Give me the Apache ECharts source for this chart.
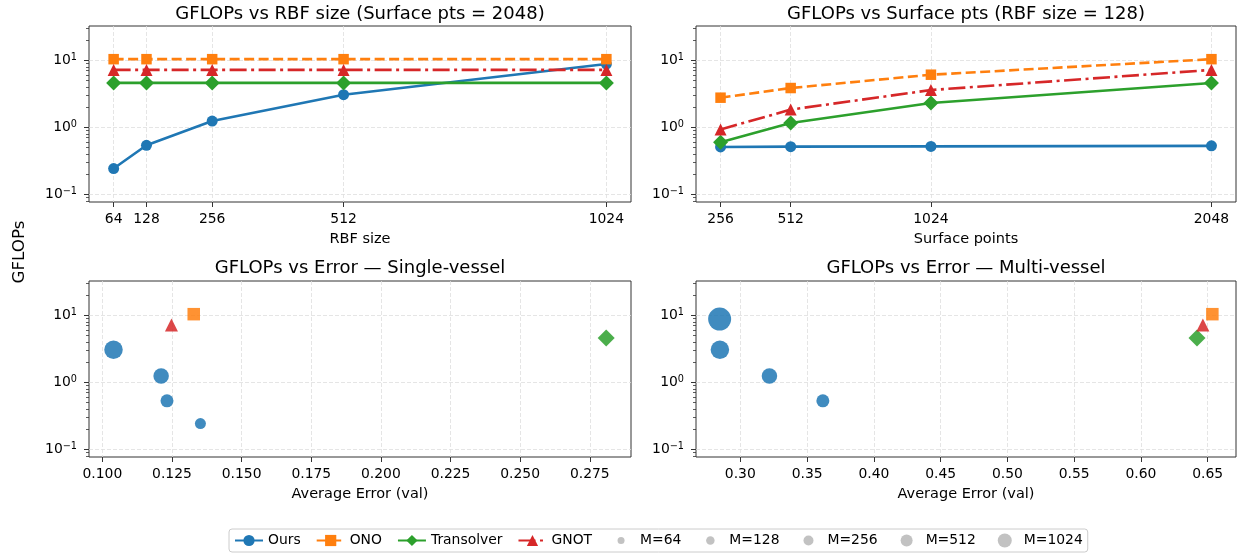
<!DOCTYPE html>
<html>
<head>
<meta charset="utf-8">
<script src="https://cdn.jsdelivr.net/npm/echarts@6/dist/echarts.min.js"></script>
<style>
  html, body { margin: 0; padding: 0; background: #fff; }
  #chart { width: 1244px; height: 557px; }
</style>
</head>
<body>
<div id="chart"></div>
<script>
// ---- data ----
const methods = ['Ours', 'ONO', 'Transolver', 'GNOT'];

// top-left: GFLOPs vs RBF size (surface pts = 2048)
const rbfSizes = [64, 128, 256, 512, 1024];
const oursByRbf = [0.243, 0.54, 1.24, 3.07, 8.8];
const onoByRbf = [10.4, 10.4, 10.4, 10.4, 10.4];
const transolverByRbf = [4.6, 4.6, 4.6, 4.6, 4.6];
const gnotByRbf = [7.2, 7.2, 7.2, 7.2, 7.2];

// top-right: GFLOPs vs surface pts (RBF size = 128)
const surfacePts = [256, 512, 1024, 2048];
const oursByPts = [0.51, 0.515, 0.52, 0.53];
const onoByPts = [2.77, 3.86, 6.1, 10.4];
const transolverByPts = [0.6, 1.16, 2.31, 4.6];
const gnotByPts = [0.93, 1.84, 3.6, 7.2];

// bottom-left: single-vessel error
const oursSingleM = [64, 128, 256, 512];
const oursSingleErr = [0.1352, 0.1232, 0.1211, 0.104];
const oursSingleGflops = [0.243, 0.53, 1.24, 3.07];
const baseSingleErr = [0.1328, 0.2809, 0.1248];   // ONO, Transolver, GNOT
const baseSingleGflops = [10.4, 4.6, 7.2];

// bottom-right: multi-vessel error
const oursMultiM = [128, 256, 512, 1024];
const oursMultiErr = [0.3618, 0.3218, 0.2847, 0.2845];
const oursMultiGflops = [0.53, 1.24, 3.07, 8.8];
const baseMultiErr = [0.6535, 0.642, 0.6464];
const baseMultiGflops = [10.4, 4.6, 7.2];

// ticks
const gflopsTicks = [0.1, 1, 10];
const gflopsMinorTicks = [0.08, 0.09, 0.2, 0.3, 0.4, 0.5, 0.6, 0.7, 0.8, 0.9,
  2, 3, 4, 5, 6, 7, 8, 9, 20, 30];
const singleErrTicks = [0.1, 0.125, 0.15, 0.175, 0.2, 0.225, 0.25, 0.275];
const multiErrTicks = [0.3, 0.35, 0.4, 0.45, 0.5, 0.55, 0.6, 0.65];
const sizeLabels = [64, 128, 256, 512, 1024];

// ---- styles ----
const FONT = 'DejaVu Sans';
const sty = {
  Ours:       { color: '#1f77b4', symbol: 'circle',   size: 11,   dash: 'solid' },
  ONO:        { color: '#ff7f0e', symbol: 'rect',     size: 10.5, dash: [10, 4.5], dot: 12.5 },
  Transolver: { color: '#2ca02c', symbol: 'diamond',  size: 15,   dash: 'solid', dot: 17 },
  GNOT:       { color: '#d62728', symbol: 'triangle', size: 12,   dash: [17, 4.5, 3, 4.5], dot: 13 }
};
const dotSize = { 64: 11, 128: 13, 256: 15.5, 512: 18.5, 1024: 23 };
const legendDot = { 64: 7, 128: 8.5, 256: 10, 512: 12, 1024: 14 };

const grids = [
  { left: 89, top: 26, width: 542, height: 176 },
  { left: 696, top: 26, width: 540, height: 176 },
  { left: 89, top: 281, width: 542, height: 176 },
  { left: 696, top: 281, width: 540, height: 176 }
];
const xRanges = [[16, 1072], [166.4, 2137.6], [0.0952, 0.2898], [0.2668, 0.6712]];
const xTicks = [rbfSizes, surfacePts, singleErrTicks, multiErrTicks];
const xFmt = [v => String(v), v => String(v), v => v.toFixed(3), v => v.toFixed(2)];
const xNames = ['RBF size', 'Surface points', 'Average Error (val)', 'Average Error (val)'];
const titles = ['GFLOPs vs RBF size (Surface pts = 2048)', 'GFLOPs vs Surface pts (RBF size = 128)',
  'GFLOPs vs Error \u2014 Single-vessel', 'GFLOPs vs Error \u2014 Multi-vessel'];

const gridLine = { show: true, lineStyle: { color: '#dedede', width: 0.8, type: [4, 2] } };

const xAxis = grids.map((g, i) => ({
  type: 'value', gridIndex: i, min: xRanges[i][0], max: xRanges[i][1],
  axisLine: { show: false, onZero: false },
  axisTick: { show: true, length: 5, customValues: xTicks[i], lineStyle: { color: '#333', width: 1 } },
  axisLabel: { customValues: xTicks[i], formatter: xFmt[i], margin: 10, color: '#000',
    fontFamily: FONT, fontSize: 13.9 },
  splitLine: gridLine,
  name: xNames[i], nameLocation: 'middle', nameGap: 30,
  nameTextStyle: { color: '#000', fontFamily: FONT, fontSize: 14.5 }
}));

function logLabel(v) {
  const e = Math.round(Math.log10(v));
  return '{b|10}{s|' + (e < 0 ? '\u2212' + (-e) : e) + '}';
}

const yAxis = [];
grids.forEach((g, i) => {
  yAxis.push({
    type: 'log', gridIndex: i, position: 'left', min: 0.077, max: 32.5,
    axisLine: { show: false },
    axisTick: { show: true, length: 5, customValues: gflopsTicks, lineStyle: { color: '#333', width: 1 } },
    axisLabel: {
      customValues: gflopsTicks, formatter: logLabel, margin: 12, color: '#000',
      rich: {
        b: { fontFamily: FONT, fontSize: 13.9, lineHeight: 16, color: '#000' },
        s: { fontFamily: FONT, fontSize: 9.7, lineHeight: 9, verticalAlign: 'top', color: '#000' }
      }
    },
    splitLine: gridLine
  });
  yAxis.push({
    type: 'log', gridIndex: i, position: 'left', min: 0.077, max: 32.5,
    axisLine: { show: false },
    axisTick: { show: true, length: 3, customValues: gflopsMinorTicks, lineStyle: { color: '#333', width: 0.8 } },
    axisLabel: { show: false },
    splitLine: { show: false }
  });
});

const series = [];
function addLine(name, xs, ys, gi) {
  const s = sty[name];
  series.push({
    type: 'line', name, xAxisIndex: gi, yAxisIndex: gi * 2,
    data: xs.map((x, k) => [x, ys[k]]),
    symbol: s.symbol, symbolSize: s.size, showSymbol: true,
    lineStyle: { color: s.color, width: 2.6, type: s.dash },
    itemStyle: { color: s.color },
    animation: false
  });
}
addLine('Ours', rbfSizes, oursByRbf, 0);
addLine('ONO', rbfSizes, onoByRbf, 0);
addLine('Transolver', rbfSizes, transolverByRbf, 0);
addLine('GNOT', rbfSizes, gnotByRbf, 0);
addLine('Ours', surfacePts, oursByPts, 1);
addLine('ONO', surfacePts, onoByPts, 1);
addLine('Transolver', surfacePts, transolverByPts, 1);
addLine('GNOT', surfacePts, gnotByPts, 1);

function addScatter(gi, ms, errs, gfl, bErr, bGfl) {
  series.push({
    type: 'scatter', name: 'Ours', xAxisIndex: gi, yAxisIndex: gi * 2,
    data: errs.map((e, k) => [e, gfl[k], ms[k]]),
    symbol: 'circle', symbolSize: v => dotSize[v[2]],
    itemStyle: { color: sty.Ours.color, opacity: 0.85 }
  });
  ['ONO', 'Transolver', 'GNOT'].forEach((n, k) => {
    series.push({
      type: 'scatter', name: n, xAxisIndex: gi, yAxisIndex: gi * 2,
      data: [[bErr[k], bGfl[k]]],
      symbol: sty[n].symbol, symbolSize: sty[n].dot,
      itemStyle: { color: sty[n].color, opacity: 0.85 }
    });
  });
}
addScatter(2, oursSingleM, oursSingleErr, oursSingleGflops, baseSingleErr, baseSingleGflops);
addScatter(3, oursMultiM, oursMultiErr, oursMultiGflops, baseMultiErr, baseMultiGflops);

// size legend entries (no data of their own)
sizeLabels.forEach(m => {
  series.push({ type: 'scatter', name: 'M=' + m, xAxisIndex: 0, yAxisIndex: 0, data: [],
    itemStyle: { color: '#b3b3b3' } });
});

function dotIcon(d) {
  const r = d / 2;
  return 'path://M0 0M28 14M' + (14 - r) + ' 7A' + r + ' ' + r + ' 0 1 1 ' + (14 + r) + ' 7A' +
    r + ' ' + r + ' 0 1 1 ' + (14 - r) + ' 7Z';
}

const option = {
  animation: false,
  backgroundColor: '#fff',
  grid: grids.map(g => Object.assign({ show: true, borderColor: '#333', borderWidth: 1,
    backgroundColor: 'transparent' }, g)),
  title: titles.map((t, i) => ({
    text: t, left: grids[i].left + grids[i].width / 2, textAlign: 'center',
    top: i < 2 ? 5.5 : 259.5, padding: 0,
    textStyle: { fontFamily: FONT, fontSize: 18, fontWeight: 'normal', color: '#000' }
  })),
  legend: {
    left: 229, top: 529, orient: 'horizontal', padding: [4.5, 5],
    itemWidth: 28, itemHeight: 14, itemGap: 15, selectedMode: false,
    borderColor: '#cccccc', borderWidth: 1, borderRadius: 3,
    textStyle: { fontFamily: FONT, fontSize: 13.9, color: '#000' },
    data: methods.concat(sizeLabels.map(m => ({ name: 'M=' + m, icon: dotIcon(legendDot[m]) })))
  },
  graphic: [{
    type: 'text', x: 19.5, y: 252, rotation: Math.PI / 2,
    style: { text: 'GFLOPs', font: '16.7px "DejaVu Sans"', fill: '#000', align: 'center', verticalAlign: 'middle' }
  }],
  xAxis, yAxis, series
};

const chart = echarts.init(document.getElementById('chart'));
chart.setOption(option);
</script>
</body>
</html>
